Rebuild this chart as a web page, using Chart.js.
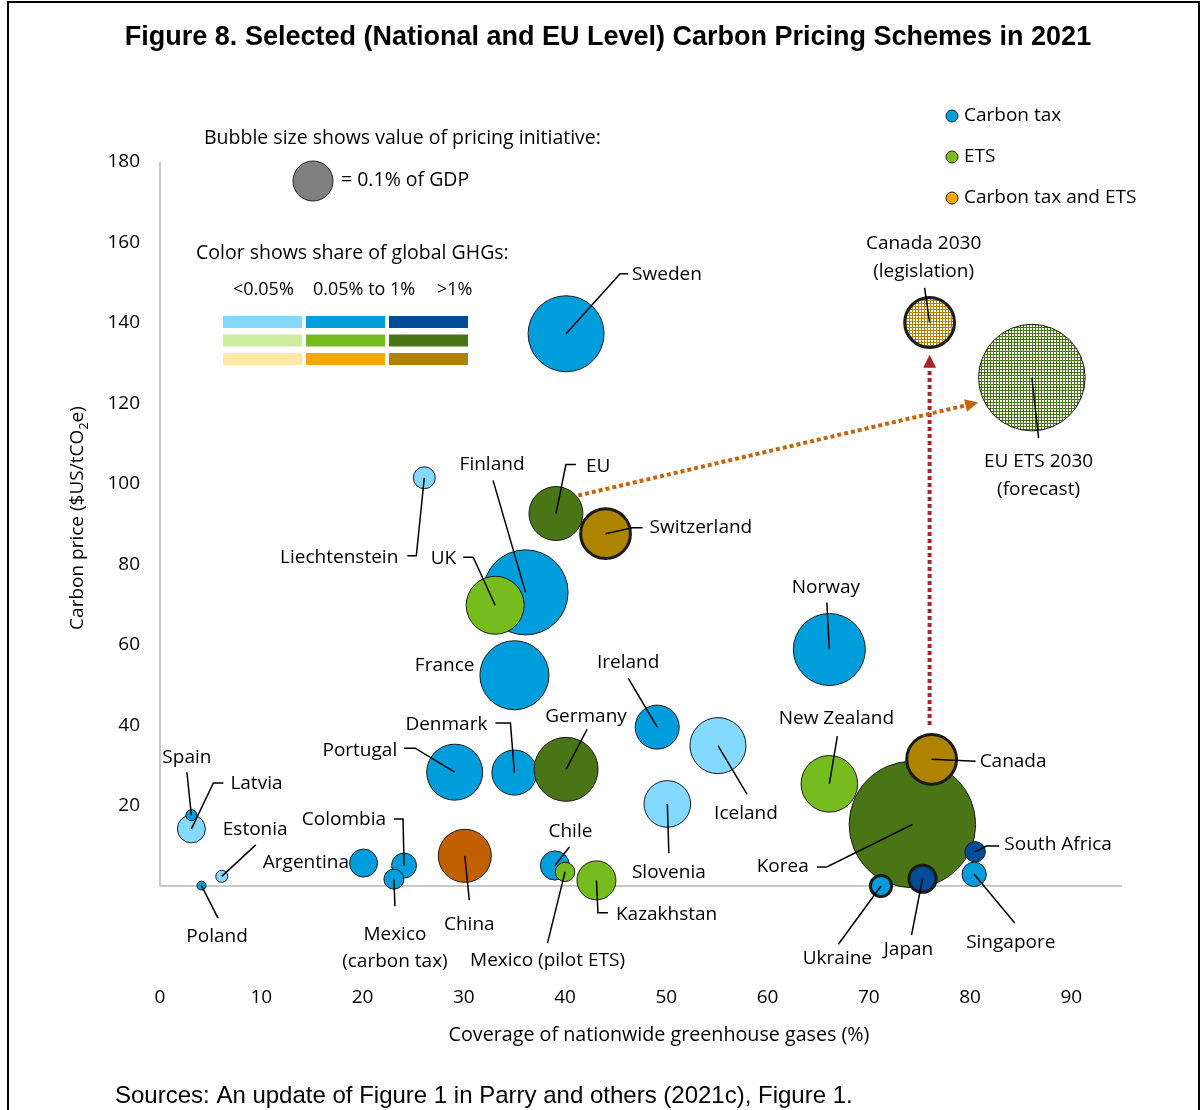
<!DOCTYPE html>
<html><head><meta charset="utf-8">
<script src="https://cdn.jsdelivr.net/npm/chart.js@4.4.0/dist/chart.umd.min.js"></script>
<style>html,body{margin:0;padding:0;background:#fff;}#wrap{width:1202px;height:1110px;}</style>
</head><body><div id="wrap"><canvas id="c" width="1202" height="1110"></canvas></div>
<script>
// ---------------- DATA ----------------
const names = ["Latvia","Spain","Estonia","Poland","Argentina","Colombia","Mexico (carbon tax)","China",
  "Portugal","Denmark","France","Finland","UK","Liechtenstein","Sweden","EU","Switzerland","Germany",
  "Chile","Mexico (pilot ETS)","Kazakhstan","Ireland","Slovenia","Iceland","Norway","New Zealand",
  "Korea","Canada","Ukraine","Japan","South Africa","Singapore","Canada 2030","EU ETS 2030"];
// Coverage of nationwide GHGs (%)
const coverage = [3.1,3.1,6.1,4.1,20.1,24.1,23.1,30.1,
  29.1,35.0,35.0,36.1,33.1,26.1,40.1,39.1,44.0,40.1,
  39.0,40.0,43.1,49.1,50.1,55.1,66.1,66.1,
  74.3,76.2,71.2,75.3,80.5,80.4,76.0,86.1];
// Carbon price ($US/tCO2e)
const price = [14.2,17.6,2.4,0.1,5.7,5.1,1.7,7.5,
  28.3,28.2,52.4,73.0,69.8,101.5,137.3,92.6,87.6,29.0,
  5.1,3.5,1.4,39.5,20.4,34.9,58.8,25.4,
  15.3,31.5,0.0,1.8,8.5,2.9,140.1,126.4];
// Value of pricing initiative (% of GDP) -> bubble area
const gdpValue = [0.049,0.0076,0.009,0.005,0.049,0.039,0.025,0.176,
  0.196,0.127,0.298,0.452,0.21,0.030,0.361,0.182,0.155,0.256,
  0.053,0.0235,0.095,0.121,0.136,0.196,0.324,0.2,
  1.0,0.155,0.028,0.046,0.026,0.037,0.155,0.71];
// Scheme type
const schemeType = ["tax","tax","tax","tax","tax","tax","tax","ets",
  "tax","tax","tax","tax","ets","tax","tax","ets","both","ets",
  "tax","ets","ets","tax","tax","tax","tax","ets",
  "ets","both","tax","tax","tax","tax","both","ets"];
// Share of global GHGs class
const ghgShare = ["low","mid","low","mid","mid","mid","mid","top",
  "mid","mid","mid","mid","mid","low","mid","high","high","high",
  "mid","mid","mid","mid","low","low","mid","mid",
  "high","high","mid","high","high","mid","high","high"];
const future2030 = names.map(n => /2030/.test(n));
const emphasised = ["Switzerland","Canada","Ukraine","Japan","Canada 2030"];

const xTickValues = [0,10,20,30,40,50,60,70,80,90];
const yTickValues = [20,40,60,80,100,120,140,160,180];
const legendTypes = ["Carbon tax","ETS","Carbon tax and ETS"];
const shareClasses = ["<0.05%","0.05% to 1%",">1%"];
const refBubbleValue = 0.1; // % of GDP
// Arrows (data coordinates): Canada -> Canada 2030, EU -> EU ETS 2030
const arrowStart = [[76.0,40.0],[41.3,97.1]];
const arrowEnd   = [[76.0,132.1],[80.8,120.2]];

// ---------------- STYLE ----------------
const COLORS = {
  'tax-low':'#83D9FF','tax-mid':'#009DDC','tax-high':'#004C97',
  'ets-low':'#CDEDA0','ets-mid':'#77BC1F','ets-high':'#4A7516',
  'both-low':'#FFE8A8','both-mid':'#F2A900','both-high':'#AE8300',
  'ets-top':'#C06000'
};
const legendRows = [['tax-low','tax-mid','tax-high'],['ets-low','ets-mid','ets-high'],['both-low','both-mid','both-high']];
const legendDot = ['#009DDC','#77BC1F','#F2A900'];
const arrowColors = ['#A8282A','#C6650F'];
const FONT = '"Open Sans", "Noto Sans", sans-serif';
const REF_R = 20;
const radiusFor = v => REF_R * Math.sqrt(v / refBubbleValue);

const canvas = document.getElementById('c');
const mainCtx = canvas.getContext('2d');
function dotPattern(color){
  const c = document.createElement('canvas'); c.width = 3; c.height = 3;
  const g = c.getContext('2d');
  g.fillStyle = color; g.fillRect(0,0,3,3);
  g.fillStyle = '#fff'; g.fillRect(1,1,2,2);
  return mainCtx.createPattern(c,'repeat');
}
function fillFor(i){
  const col = COLORS[schemeType[i] + '-' + ghgShare[i]];
  return future2030[i] ? dotPattern(col) : col;
}

// Label placement (pixel offsets from bubble centre)
const labelLayout = {
 "Latvia":{t:[39,-45],a:'left',l:[[22,-46],[32,-46]]},
 "Spain":{t:[-4.5,-58],a:'center',l:[[-4.5,-43]]},
 "Estonia":{t:[1,-46.5],a:'left',l:[[34,-31.5]]},
 "Poland":{t:[15.5,50.5],a:'center',l:[[16.5,32.5]]},
 "Argentina":{t:[-14.5,0],a:'right'},
 "Colombia":{t:[-18,-45.5],a:'right',l:[[-1,-46.5],[-10,-46.5]]},
 "Mexico (carbon tax)":{t:[1,55],a:'center',l:[[1,27]],txt:["Mexico","(carbon tax)"]},
 "China":{t:[4.5,68.4],a:'center',l:[[4.5,44.4]]},
 "Portugal":{t:[-57.5,-22],a:'right',l:[[-39.5,-24],[-50.5,-24]]},
 "Denmark":{t:[-27,-47.5],a:'right',l:[[-4,-49.5],[-19,-49.5]]},
 "France":{t:[-40,-10],a:'right'},
 "Finland":{t:[-33.5,-128],a:'center',l:[[-32.5,-112]]},
 "UK":{t:[-39,-47],a:'right',l:[[-22,-48],[-32,-48]]},
 "Liechtenstein":{t:[-26,80],a:'right',l:[[-8,78],[-17,78]]},
 "Sweden":{t:[66,-59],a:'left',l:[[54,-60],[62,-60]]},
 "EU":{t:[30,-47],a:'left',l:[[10,-49],[20,-49]]},
 "Switzerland":{t:[44,-6],a:'left',l:[[27,-6],[37,-6]]},
 "Germany":{t:[20,-53],a:'center',l:[[21,-40]]},
 "Chile":{t:[15.5,-33.5],a:'center',l:[[14.5,-18.5]]},
 "Mexico (pilot ETS)":{t:[-17.5,89],a:'center',l:[[-17.5,71]]},
 "Kazakhstan":{t:[19.5,34.5],a:'left',l:[[1.5,32.5],[11.5,32.5]]},
 "Ireland":{t:[-29,-65],a:'center',l:[[-29,-49]]},
 "Slovenia":{t:[1.5,68.3],a:'center',l:[[1.5,49.3]]},
 "Iceland":{t:[28,67.5],a:'center',l:[[29,48.5]]},
 "Norway":{t:[-3.5,-62],a:'center',l:[[-2.5,-47]]},
 "New Zealand":{t:[7,-64.8],a:'center',l:[[8,-47.8]]},
 "Korea":{t:[-103.6,42.5],a:'right',l:[[-85.6,42.5],[-95.6,42.5]]},
 "Canada":{t:[48,2],a:'left',l:[[44,2]]},
 "Ukraine":{t:[-43.6,72.3],a:'center',l:[[-42.6,58.3]]},
 "Japan":{t:[-14,71.3],a:'center',l:[[-11,56.3]]},
 "South Africa":{t:[29.2,-7.7],a:'left',l:[[11.2,-5.7],[24,-5.7]]},
 "Singapore":{t:[36.6,68.6],a:'center',l:[[40.6,48.6]]},
 "Canada 2030":{t:[-6,-78.7],a:'center',l:[[-5,-34.7]],txt:["Canada 2030","(legislation)"]},
 "EU ETS 2030":{t:[6.7,84.3],a:'center',l:[[6.7,60.3]],txt:["EU ETS 2030","(forecast)"]}
};

function drawArrow(ctx,x1,y1,x2,y2,color){
  const dx=x2-x1, dy=y2-y1, len=Math.hypot(dx,dy), ux=dx/len, uy=dy/len;
  const head=13, hw=6.5;
  ctx.save();
  ctx.strokeStyle=color; ctx.lineWidth=4; ctx.setLineDash([4,3]); ctx.lineCap='butt';
  ctx.beginPath(); ctx.moveTo(x1,y1); ctx.lineTo(x2-ux*head,y2-uy*head); ctx.stroke();
  ctx.setLineDash([]);
  ctx.fillStyle=color; ctx.beginPath();
  ctx.moveTo(x2,y2);
  ctx.lineTo(x2-ux*head - uy*hw, y2-uy*head + ux*hw);
  ctx.lineTo(x2-ux*head + uy*hw, y2-uy*head - ux*hw);
  ctx.closePath(); ctx.fill();
  ctx.restore();
}

const deco = {
  id:'deco',
  beforeDraw(chart){
    const ctx=chart.ctx; ctx.save(); ctx.fillStyle='#fff'; ctx.fillRect(0,0,chart.width,chart.height); ctx.restore();
  },
  beforeDatasetsDraw(chart){
    const {ctx, scales:{x,y}} = chart;
    ctx.save(); ctx.strokeStyle='#C8C8C8'; ctx.lineWidth=2;
    const x0=x.getPixelForValue(0), y0=y.getPixelForValue(0);
    ctx.beginPath(); ctx.moveTo(x0,y.getPixelForValue(180)); ctx.lineTo(x0,y0); ctx.lineTo(x.getPixelForValue(x.max),y0); ctx.stroke();
    ctx.restore();
  },
  afterDatasetsDraw(chart){
    const {ctx, scales:{x,y}} = chart;
    // arrows
    arrowStart.forEach((s,k)=>{
      drawArrow(ctx,x.getPixelForValue(s[0]),y.getPixelForValue(s[1]),x.getPixelForValue(arrowEnd[k][0]),y.getPixelForValue(arrowEnd[k][1]),arrowColors[k]);
    });
    // labels + leader lines
    ctx.save();
    ctx.font='19px '+FONT; ctx.fillStyle='#000'; ctx.strokeStyle='#000'; ctx.lineWidth=1.5; ctx.textBaseline='middle';
    names.forEach((n,i)=>{
      const L=labelLayout[n]; if(!L) return;
      const cx=x.getPixelForValue(coverage[i]), cy=y.getPixelForValue(price[i]);
      if(L.l){ ctx.beginPath(); ctx.moveTo(cx,cy); L.l.forEach(p=>ctx.lineTo(cx+p[0],cy+p[1])); ctx.stroke(); }
      ctx.textAlign=L.a;
      (L.txt||[n]).forEach((line,k)=>ctx.fillText(line,cx+L.t[0],cy+L.t[1]+k*27.5));
    });
    ctx.restore();

    // title
    ctx.save();
    ctx.fillStyle='#000'; ctx.textBaseline='middle'; ctx.textAlign='center';
    ctx.font='bold 27px "Liberation Sans", Arial, sans-serif';
    ctx.fillText('Figure 8. Selected (National and EU Level) Carbon Pricing Schemes in 2021',608,38);
    // source
    ctx.textAlign='left'; ctx.font='24px "Liberation Sans", Arial, sans-serif';
    ctx.fillText('Sources: An update of Figure 1 in Parry and others (2021c), Figure 1.',115,1096);
    // axis titles
    ctx.font='19.7px '+FONT; ctx.textAlign='center';
    ctx.fillText('Coverage of nationwide greenhouse gases (%)',659,1035);
    ctx.save(); ctx.translate(78,518); ctx.rotate(-Math.PI/2);
    const p1='Carbon price ($US/tCO', p2='2', p3='e)';
    ctx.font='19px '+FONT; const w1=ctx.measureText(p1).width, w3=ctx.measureText(p3).width;
    ctx.font='13px '+FONT; const w2=ctx.measureText(p2).width;
    let sx=-(w1+w2+w3)/2; ctx.textAlign='left';
    ctx.font='19px '+FONT; ctx.fillText(p1,sx,0); sx+=w1;
    ctx.font='13px '+FONT; ctx.fillText(p2,sx,6); sx+=w2;
    ctx.font='19px '+FONT; ctx.fillText(p3,sx,0);
    ctx.restore();

    // size legend
    ctx.font='19.5px '+FONT; ctx.textAlign='left';
    ctx.fillText('Bubble size shows value of pricing initiative:',204,138);
    ctx.beginPath(); ctx.arc(313,181,REF_R,0,Math.PI*2); ctx.fillStyle='#808080'; ctx.fill();
    ctx.strokeStyle='#262626'; ctx.lineWidth=1; ctx.stroke();
    ctx.fillStyle='#000';
    ctx.fillText('= '+refBubbleValue+'% of GDP',341,180);
    // colour legend
    ctx.fillText('Color shows share of global GHGs:',196,253);
    ctx.font='18px '+FONT; ctx.textAlign='left';
    const colTx=[233,313,437];
    shareClasses.forEach((s,k)=>ctx.fillText(s,colTx[k],290));
    const colX=[223,306,389];
    legendRows.forEach((row,r)=>row.forEach((key,c)=>{
      ctx.fillStyle=COLORS[key]; ctx.fillRect(colX[c],316+r*18.5,79,12);
    }));
    // type legend
    ctx.font='19px '+FONT; ctx.textAlign='left';
    legendTypes.forEach((t,k)=>{
      const yy=116+k*41;
      ctx.beginPath(); ctx.arc(952,yy,6,0,Math.PI*2); ctx.fillStyle=legendDot[k]; ctx.fill();
      ctx.strokeStyle='#222'; ctx.lineWidth=1; ctx.stroke();
      ctx.fillStyle='#000'; ctx.fillText(t,964,yy);
    });
    // frame
    ctx.strokeStyle='#000'; ctx.lineWidth=2;
    ctx.beginPath(); ctx.moveTo(8,1110); ctx.lineTo(8,2); ctx.lineTo(1199,2); ctx.lineTo(1199,1110); ctx.stroke();
    ctx.restore();
  }
};

new Chart(canvas,{
  type:'bubble',
  data:{datasets:[{
    label:'Carbon pricing schemes',
    data:names.map((n,i)=>({x:coverage[i],y:price[i],r:radiusFor(gdpValue[i])})),
    backgroundColor:ctx=>fillFor(ctx.dataIndex),
    borderColor:'#1a1a1a',
    borderWidth:ctx=>emphasised.includes(names[ctx.dataIndex])?3:1,
    hoverBorderWidth:ctx=>emphasised.includes(names[ctx.dataIndex])?3:1,
    clip:false
  }]},
  options:{
    responsive:false, animation:false, events:[],
    layout:{padding:{top:162,right:80,left:0,bottom:0}},
    plugins:{legend:{display:false},tooltip:{enabled:false},title:{display:false}},
    scales:{
      x:{type:'linear',min:0,max:95,
        grid:{display:false,drawTicks:false},border:{display:false},
        afterBuildTicks:s=>{s.ticks=xTickValues.map(v=>({value:v}));},
        afterFit:s=>{s.height=224;},
        ticks:{padding:100,color:'#000',font:{family:FONT,size:19}}},
      y:{type:'linear',min:0,max:180,
        grid:{display:false,drawTicks:false},border:{display:false},
        afterBuildTicks:s=>{s.ticks=yTickValues.map(v=>({value:v}));},
        afterFit:s=>{s.width=160;},
        ticks:{padding:20,color:'#000',font:{family:FONT,size:19}}}
    }
  },
  plugins:[deco]
});
</script></body></html>
